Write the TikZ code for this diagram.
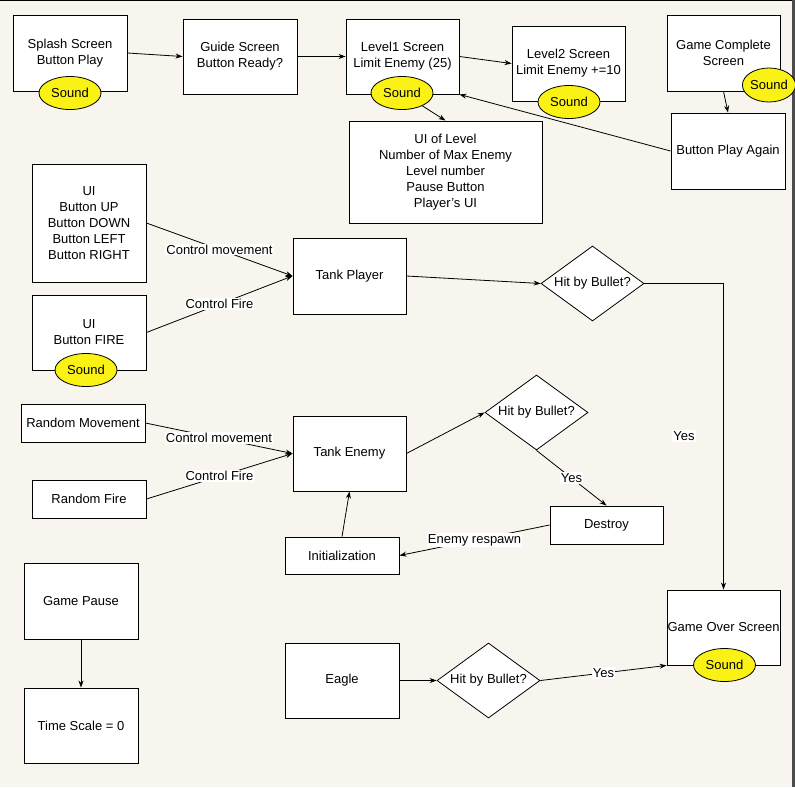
\documentclass[tikz,border=0pt]{standalone}
\usepackage{fontspec}
\setmainfont{Liberation Sans}
\usetikzlibrary{shapes.geometric,arrows.meta}
\definecolor{paper}{RGB}{248,245,239}
\definecolor{soundfill}{RGB}{250,242,20}
\tikzset{
  box/.style={draw, fill=white, line width=0.9pt, align=center, inner sep=0pt,
    font=\fontsize{13}{16}\selectfont},
  sound/.style={ellipse, draw, fill=soundfill, line width=0.8pt, inner sep=0pt,
    minimum width=62pt, minimum height=33pt, font=\fontsize{13}{16}\selectfont},
  decision/.style={diamond, draw, fill=white, line width=0.8pt, inner sep=0pt,
    minimum width=103pt, minimum height=75pt},
  dtext/.style={font=\fontsize{13}{16}\selectfont, inner sep=0pt},
  flow/.style={line width=0.8pt, -{Stealth[length=7pt,width=5pt]}},
  lbl/.style={fill=white, inner sep=1pt, font=\fontsize{13}{16}\selectfont}
}
\begin{document}
\begin{tikzpicture}[x=1pt,y=-1pt]
% page
\useasboundingbox (0,0) rectangle (795,787);
\fill[paper] (0,0) rectangle (795,787);
\fill[black!70] (792,0) rectangle (795,787);
\draw[line width=1pt] (0,0.5) -- (792,0.5);

% top row: screens
\node[box, minimum width=114pt, minimum height=76pt] (splash) at (70,53) {Splash Screen\\Button Play};
\node[sound] (s0) at (70,93) {Sound};
\node[box, minimum width=114pt, minimum height=75pt] (guide) at (240,56.5) {Guide Screen\\Button Ready?};
\node[box, minimum width=113pt, minimum height=75pt] (lv1) at (402.5,56.5) {Level1 Screen\\Limit Enemy (25)};
\node[sound] (s1) at (402,93) {Sound};
\node[box, minimum width=113pt, minimum height=75pt] (lv2) at (568.5,63.5) {Level2 Screen\\Limit Enemy +=10};
\node[sound] (s2) at (569,102) {Sound};
\node[box, minimum width=113pt, minimum height=76pt] (gc) at (723.5,53) {Game Complete\\Screen};
\node[sound, minimum width=43pt, minimum height=34pt] (s3) at (769,85) {Sound};
\node[box, minimum width=114pt, minimum height=76pt] (again) at (728,151) {Button Play Again};
\node[box, minimum width=193pt, minimum height=102pt] (uil) at (445.5,172) {UI of Level\\Number of Max Enemy\\Level number\\Pause Button\\Player's UI};

% player controls
\node[box, minimum width=114pt, minimum height=118pt] (uimove) at (89,223) {UI\\Button UP\\Button DOWN\\Button LEFT\\Button RIGHT};
\node[box, minimum width=114pt, minimum height=75pt] (uifire) at (89,332.5) {UI\\Button FIRE};
\node[sound] (s4) at (86,370) {Sound};
\node[box, minimum width=113pt, minimum height=76pt] (tp) at (349.5,276) {Tank Player};
\node[decision] (d1) at (592.5,283.5) {};
\node[dtext] at (d1) {Hit by Bullet?};

% enemy
\node[box, minimum width=124pt, minimum height=38pt] (rmove) at (83,423) {Random Movement};
\node[box, minimum width=114pt, minimum height=38pt] (rfire) at (89,499) {Random Fire};
\node[box, minimum width=113pt, minimum height=75pt] (te) at (349.5,453.5) {Tank Enemy};
\node[decision] (d2) at (536.5,412.5) {};
\node[dtext] at (d2) {Hit by Bullet?};
\node[box, minimum width=113pt, minimum height=38pt] (destroy) at (606.5,525) {Destroy};
\node[box, minimum width=114pt, minimum height=37pt] (init) at (342,555.5) {Initialization};

% pause
\node[box, minimum width=114pt, minimum height=76pt] (gp) at (81,601) {Game Pause};
\node[box, minimum width=114pt, minimum height=75pt] (ts) at (81,725.5) {Time Scale = 0};

% eagle and game over
\node[box, minimum width=114pt, minimum height=75pt] (eagle) at (342,680.5) {Eagle};
\node[decision] (d3) at (488.5,680.5) {};
\node[dtext] at (d3) {Hit by Bullet?};
\node[box, minimum width=113pt, minimum height=75pt] (go) at (723.5,627.5) {Game Over Screen};
\node[sound] (s5) at (724.5,665) {Sound};

% connectors
\draw[flow] (splash.east) -- (guide.west);
\draw[flow] (guide.east) -- (lv1.west);
\draw[flow] (lv1.east) -- (lv2.west);
\draw[flow] (s1) -- (uil.north);
\draw[flow] (gc.south) -- (again.north);
\draw[flow] (again.west) -- (lv1.south east);

\draw[flow] (uimove.east) -- node[lbl] {Control movement} (tp.west);
\draw[flow] (uifire.east) -- node[lbl] {Control Fire} (tp.west);
\draw[flow] (tp.east) -- (d1.west);
\draw[flow] (d1.east) -| (go.north);
\node[lbl] (yes1) at (684,436) {Yes};

\draw[flow] (rmove.east) -- node[lbl] {Control movement} (te.west);
\draw[flow] (rfire.east) -- node[lbl] {Control Fire} (te.west);
\draw[flow] (te.east) -- (d2.west);
\draw[flow] (d2.south) -- node[lbl] {Yes} (destroy.north);
\draw[flow] (destroy.west) -- node[lbl] {Enemy respawn} (init.east);
\draw[flow] (init.north) -- (te.south);

\draw[flow] (gp.south) -- (ts.north);
\draw[flow] (eagle.east) -- (d3.west);
\draw[flow] (d3.east) -- node[lbl] {Yes} (go.south west);
\end{tikzpicture}
\end{document}
